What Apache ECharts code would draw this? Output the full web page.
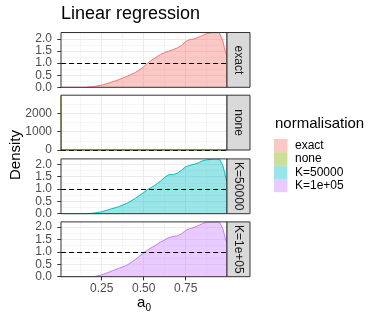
<!DOCTYPE html>
<html>
<head>
<meta charset="utf-8">
<script src="https://cdn.jsdelivr.net/npm/echarts@6/dist/echarts.min.js"></script>
<style>
  html, body { margin: 0; padding: 0; background: #fff; }
  #chart { width: 382px; height: 322px; }
</style>
</head>
<body>
<div id="chart"></div>
<script>
// density estimates
const xGrid = [0.008, 0.1, 0.15, 0.2, 0.25, 0.3, 0.35, 0.4, 0.45, 0.5, 0.525, 0.55, 0.575, 0.6, 0.625, 0.65,
  0.675, 0.7, 0.725, 0.75, 0.775, 0.8, 0.825, 0.85, 0.875, 0.9, 0.925, 0.95, 0.96, 0.97, 0.98, 0.99, 0.996]
const exactDensity = [0, 0, 0, 0.03, 0.09, 0.19, 0.31, 0.45, 0.61, 0.84, 1.01, 1.14, 1.25, 1.36, 1.44, 1.50,
  1.56, 1.63, 1.73, 1.90, 1.98, 2.00, 2.07, 2.15, 2.22, 2.26, 2.27, 2.26, 2.18, 1.95, 1.66, 1.40, 1.28]
const k50000Density = [0, 0, 0, 0.02, 0.08, 0.18, 0.28, 0.42, 0.62, 0.86, 0.99, 1.08, 1.19, 1.32, 1.47, 1.58,
  1.58, 1.64, 1.76, 1.90, 1.96, 2.00, 2.06, 2.14, 2.18, 2.20, 2.22, 2.22, 2.15, 1.98, 1.72, 1.42, 1.30]
const k1e05Density = [0, 0, 0, 0, 0.07, 0.20, 0.33, 0.46, 0.69, 0.96, 1.08, 1.18, 1.28, 1.39, 1.48, 1.57,
  1.61, 1.64, 1.72, 1.86, 1.93, 1.98, 2.05, 2.13, 2.19, 2.20, 2.20, 2.20, 2.13, 1.95, 1.70, 1.45, 1.33]
// "none" is a spike at the left edge
const noneX = [0.008, 0.0092, 0.996]
const noneDensity = [2980, 0, 0]

const panelNames = ['exact', 'none', 'K=50000', 'K=1e+05']
const lineColors = ['#F8766D', '#7CAE00', '#00BFC4', '#C77CFF']
const fillColors = ['rgba(248,118,109,0.4)', 'rgba(124,174,0,0.4)', 'rgba(0,191,196,0.4)', 'rgba(199,124,255,0.4)']
const xTicks = [0.25, 0.5, 0.75]
const xMinorTicks = [0.125, 0.375, 0.625, 0.875]
const yTicks = [0, 0.5, 1, 1.5, 2]
const yMinorTicks = [0.25, 0.75, 1.25, 1.75, 2.25]
const yTicksNone = [0, 1000, 2000]
const yMinorTicksNone = [500, 1500, 2500]
const yMax = [2.27, 2980, 2.22, 2.2]

const font = 'Liberation Sans, Arial, sans-serif'
const left = 61
const plotW = 166
const stripW = 23
const panelH = 54.8
const tops = [32.5, 95.2, 158.9, 221.9]

const seriesData = [
  xGrid.map((x, i) => [x, exactDensity[i]]),
  noneX.map((x, i) => [x, noneDensity[i]]),
  xGrid.map((x, i) => [x, k50000Density[i]]),
  xGrid.map((x, i) => [x, k1e05Density[i]])
]

const chart = echarts.init(document.getElementById('chart'), null, { renderer: 'canvas' })

const grids = []
const xAxes = []
const yAxes = []
const series = []
const graphics = []

panelNames.forEach((name, p) => {
  const isNone = p === 1
  const isBottom = p === panelNames.length - 1
  grids.push({ left: left, top: tops[p], width: plotW, height: panelH })

  // main x axis (ticks/labels only on the bottom panel)
  xAxes.push({
    type: 'value', gridIndex: p, min: 0.008, max: 0.996,
    axisLine: { show: false },
    axisTick: { show: isBottom, customValues: xTicks, length: 3.7, lineStyle: { color: '#333333' } },
    axisLabel: {
      show: isBottom, customValues: xTicks, margin: 6,
      color: '#4D4D4D', fontSize: 12, fontFamily: font,
      formatter: v => v.toFixed(2)
    },
    splitLine: { show: true, lineStyle: { color: '#EBEBEB', width: 1 } }
  })
  // minor grid
  xAxes.push({
    type: 'value', gridIndex: p, min: 0.008, max: 0.996,
    axisLine: { show: false },
    axisTick: { show: false, customValues: xMinorTicks },
    axisLabel: { show: false, customValues: xMinorTicks },
    splitLine: { show: true, lineStyle: { color: '#EBEBEB', width: 0.5 } }
  })

  const ticks = isNone ? yTicksNone : yTicks
  const minor = (isNone ? yMinorTicksNone : yMinorTicks).filter(v => v < yMax[p])
  yAxes.push({
    type: 'value', gridIndex: p, min: 0, max: yMax[p],
    axisLine: { show: false },
    axisTick: { show: true, customValues: ticks, length: 3.7, lineStyle: { color: '#333333' } },
    axisLabel: {
      customValues: ticks, margin: 9,
      color: '#4D4D4D', fontSize: 12, fontFamily: font,
      formatter: v => isNone ? String(v) : v.toFixed(1)
    },
    splitLine: { show: true, lineStyle: { color: '#EBEBEB', width: 1 } }
  })
  yAxes.push({
    type: 'value', gridIndex: p, min: 0, max: yMax[p],
    axisLine: { show: false },
    axisTick: { show: false, customValues: minor },
    axisLabel: { show: false, customValues: minor },
    splitLine: { show: true, lineStyle: { color: '#EBEBEB', width: 0.5 } }
  })

  series.push({
    name: name,
    type: 'line',
    xAxisIndex: p * 2,
    yAxisIndex: p * 2,
    data: seriesData[p],
    showSymbol: false,
    smooth: false,
    lineStyle: { color: lineColors[p], width: 1 },
    itemStyle: { color: lineColors[p] },
    areaStyle: { color: fillColors[p], opacity: 1 },
    markLine: {
      silent: true,
      symbol: 'none',
      label: { show: false },
      lineStyle: { color: '#000', width: 1, type: [5, 3] },
      data: [{ yAxis: 1 }]
    },
    z: 2
  })

  // panel border on top
  graphics.push({
    type: 'rect', z: 100,
    shape: { x: left, y: tops[p], width: plotW, height: panelH },
    style: { fill: 'none', stroke: '#333333', lineWidth: 1 }
  })
  // facet strip
  graphics.push({
    type: 'rect', z: 100,
    shape: { x: left + plotW, y: tops[p], width: stripW, height: panelH },
    style: { fill: '#D9D9D9', stroke: '#333333', lineWidth: 1 }
  })
  graphics.push({
    type: 'text', z: 101,
    x: left + plotW + stripW / 2, y: tops[p] + panelH / 2,
    rotation: -Math.PI / 2,
    style: {
      text: name, fill: '#1A1A1A', fontSize: 12, fontFamily: font,
      align: 'center', verticalAlign: 'middle'
    }
  })
})

// titles
graphics.push({
  type: 'text', x: 61, y: 14.4,
  style: { text: 'Linear regression', fill: '#000', fontSize: 18, fontFamily: font, align: 'left', verticalAlign: 'middle' }
})
graphics.push({
  type: 'text', x: 15.5, y: 155, rotation: Math.PI / 2,
  style: { text: 'Density', fill: '#000', fontSize: 15, fontFamily: font, align: 'center', verticalAlign: 'middle' }
})
graphics.push({
  type: 'text', x: 145.3, y: 303,
  style: { text: 'a', fill: '#000', fontSize: 15, fontFamily: font, align: 'right', verticalAlign: 'middle' }
})
graphics.push({
  type: 'text', x: 145.5, y: 308.4,
  style: { text: '0', fill: '#000', fontSize: 10, fontFamily: font, align: 'left', verticalAlign: 'middle' }
})
graphics.push({
  type: 'text', x: 275, y: 123.8,
  style: { text: 'normalisation', fill: '#000', fontSize: 15, fontFamily: font, align: 'left', verticalAlign: 'middle' }
})

chart.setOption({
  animation: false,
  backgroundColor: '#fff',
  grid: grids,
  xAxis: xAxes,
  yAxis: yAxes,
  series: series,
  legend: {
    orient: 'vertical',
    left: 274, top: 139,
    padding: 0,
    itemWidth: 13.4, itemHeight: 13.3, itemGap: 0,
    icon: 'rect',
    selectedMode: false,
    textStyle: { color: '#000', fontSize: 12, fontFamily: font, lineHeight: 13.3, padding: [0, 0, 0, 2.6] },
    data: panelNames.map((n, i) => ({ name: n, itemStyle: { color: fillColors[i], borderWidth: 0 } }))
  },
  graphic: graphics
})
</script>
</body>
</html>
